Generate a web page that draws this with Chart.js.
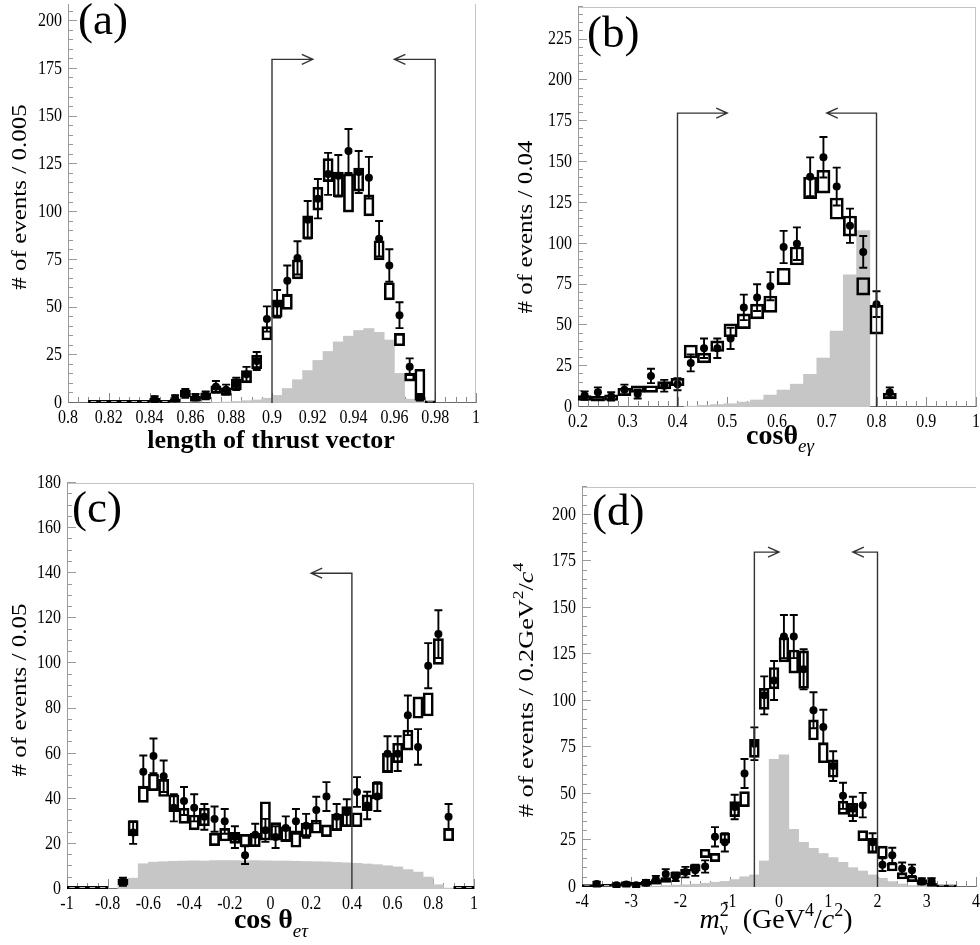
<!DOCTYPE html>
<html><head><meta charset="utf-8">
<script src="https://cdn.jsdelivr.net/npm/chart.js@4.4.1/dist/chart.umd.min.js"></script>
<style>
html,body{margin:0;padding:0;background:#fff}
#wrap{position:relative;width:980px;height:945px;overflow:hidden;background:#fff}
#wrap canvas{position:absolute;left:0;top:0}
</style></head><body><div id="wrap">
<canvas id="cA" width="980" height="945"></canvas>
<canvas id="cB" width="980" height="945"></canvas>
<canvas id="cC" width="980" height="945"></canvas>
<canvas id="cD" width="980" height="945"></canvas>
</div>
<script>
// ================= DATA =================
// ---- Panel (a): length of thrust vector ----
const aBins = [0.8025,0.8075,0.8125,0.8175,0.8225,0.8275,0.8325,0.8375,0.8425,0.8475,0.8525,0.8575,0.8625,0.8675,0.8725,0.8775,0.8825,0.8875,0.8925,0.8975,0.9025,0.9075,0.9125,0.9175,0.9225,0.9275,0.9325,0.9375,0.9425,0.9475,0.9525,0.9575,0.9625,0.9675,0.9725,0.9775];
const aData = [null,null,null,null,null,null,null,null,2,null,2.5,5,3,4,8.5,7,10,15,22,44,52,64,76,96,107,120,119,132,121,118,86,72,46,19,3,null];
const aErr  = [null,null,null,null,null,null,null,null,1.5,null,1.6,2.3,1.7,2,3,2.6,3.2,3.9,4.7,6.6,7.2,8,8.7,9.8,10.3,11,10.9,11.5,11,10.9,9.3,8.5,6.8,4.4,1.7,null];
const aMcLo = [null,null,0,0,0,0,0,0,0.5,0,0.5,3.3,1,2,5,4,7,10.5,18,33,45,49,65,86,101,116,108,100,111,98,75,54,30,11.5,1.5,0];
const aMcHi = [null,null,1.4,1.4,1.4,1.4,1.4,1.4,2.5,1.4,2,6.8,3.5,5.3,9,8,12.5,17,25,40,54,57,75,98,113,128,121,120,123,109,85,63,36.5,15.7,17.7,1.2];
const aSig  = [null,null,null,null,null,null,null,null,null,null,null,null,null,null,0.3,0.5,0.8,1.2,1.6,2.5,4,7.6,12.2,17,22.3,27,32,35,38,39,37,33,15.5,2,1,0.5];
const aCuts = [{x0:0.9,x1:0.92,h:180},{x0:0.98,x1:0.96,h:180}];
const aXTicks = [0.8,0.82,0.84,0.86,0.88,0.9,0.92,0.94,0.96,0.98,1];
const aXLabels = ["0.8","0.82","0.84","0.86","0.88","0.9","0.92","0.94","0.96","0.98","1"];
const aYTicks = [0,25,50,75,100,125,150,175,200];
const aYLabels = ["0","25","50","75","100","125","150","175","200"];

// ---- Panel (b): cos theta_e-gamma ----
const bBins = [0.21333,0.24,0.26667,0.29333,0.32,0.34667,0.37333,0.4,0.42667,0.45333,0.48,0.50667,0.53333,0.56,0.58667,0.61333,0.64,0.66667,0.69333,0.72,0.74667,0.77333,0.8,0.82667];
const bData = [7,9,6.5,10.5,8,19,13,14,27,36,36,42,61,67,74,98,100,141,153,135,111,95,63,9];
const bErr  = [2.6,3,2.5,3.2,2.8,4.4,3.6,3.7,5.2,6,6,6.5,7.8,8.2,8.6,9.9,10,11.9,12.4,11.6,10.5,9.7,7.9,3];
const bMcLo = [4,3.5,4,7,9,9,11,13,30,27,34,43,48,54,58,75,87,127.6,131,115,104.7,68.5,44.6,5];
const bMcHi = [7,6.5,7.5,11.5,13,13,15.5,17.5,38,33,40.5,51,57,63,68,85,98,140.8,145,128,117,79.3,62.3,8.4];
const bSig  = [null,null,null,null,null,null,null,null,0.5,1,1.5,2,3,4.3,7.3,10.4,14,20,30,46.5,81,108,null,null];
const bCuts = [{x0:0.4,x1:0.5,h:180},{x0:0.8,x1:0.7,h:180}];
const bXTicks = [0.2,0.3,0.4,0.5,0.6,0.7,0.8,0.9,1];
const bXLabels = ["0.2","0.3","0.4","0.5","0.6","0.7","0.8","0.9","1"];
const bYTicks = [0,25,50,75,100,125,150,175,200,225];
const bYLabels = ["0","25","50","75","100","125","150","175","200","225"];

// ---- Panel (c): cos theta_e-tau ----
const cBins = [-0.975,-0.925,-0.875,-0.825,-0.775,-0.725,-0.675,-0.625,-0.575,-0.525,-0.475,-0.425,-0.375,-0.325,-0.275,-0.225,-0.175,-0.125,-0.075,-0.025,0.025,0.075,0.125,0.175,0.225,0.275,0.325,0.375,0.425,0.475,0.525,0.575,0.625,0.675,0.725,0.775,0.825,0.875,0.925,0.975];
const cData = [null,null,null,null,null,3.2,25,52,59,50,36,39,36,32,31,30,23,15,24,26,23,27,30,28,35,41,32,34,43,37,41,60,60,77,63,99,113,32,null,null];
const cErr  = [null,null,null,null,null,1.8,5,7.2,7.7,7,6,6.2,6,5.7,5.6,5.5,4.8,3.9,4.9,5.1,4.8,5.2,5.5,5.3,5.9,6.4,5.7,5.8,6.6,6.1,6.4,7.7,7.7,8.8,7.9,10,10.6,5.7,null,null];
const cMcLo = [0,0,0,0,null,1.8,23.6,38.4,43.6,41,34.3,29.1,26.2,28,19.2,21.3,20.2,18.8,18.8,21.7,21.7,21,18.5,23.2,24.7,23.2,25.9,27.6,27.6,34.7,39.9,51.6,56,61.6,75.7,76.7,99.6,21.4,0,0];
const cMcHi = [1.2,1.2,1.2,1.2,null,4.3,30.3,45.6,51,48.6,41.7,35.8,32.8,35.8,24.7,26.9,25.1,24.2,24.7,38.7,29.4,27.6,25.8,29.1,30.6,28.4,33.2,36.5,33.8,41.7,47.3,60.2,64.6,70.5,85.2,87,111,26.9,1.2,1.2];
const cSig  = [null,null,null,null,null,4.5,4.8,11.2,11.9,12.1,12.3,12.4,12.5,12.4,12.6,12.6,12.6,12.5,12.6,12.5,12.4,12.4,12.3,12.2,12.1,12,11.8,11.6,11.4,11.1,10.8,10.3,9.8,8.6,7.5,5.3,1.9,0.4,null,null];
const cCuts = [{x0:0.4,x1:0.2,h:140}];
const cXTicks = [-1,-0.8,-0.6,-0.4,-0.2,0,0.2,0.4,0.6,0.8,1];
const cXLabels = ["-1","-0.8","-0.6","-0.4","-0.2","0","0.2","0.4","0.6","0.8","1"];
const cYTicks = [0,20,40,60,80,100,120,140,160,180];
const cYLabels = ["0","20","40","60","80","100","120","140","160","180"];

// ---- Panel (d): missing mass squared ----
const dBins = [-3.9,-3.7,-3.5,-3.3,-3.1,-2.9,-2.7,-2.5,-2.3,-2.1,-1.9,-1.7,-1.5,-1.3,-1.1,-0.9,-0.7,-0.5,-0.3,-0.1,0.1,0.3,0.5,0.7,0.9,1.1,1.3,1.5,1.7,1.9,2.1,2.3,2.5,2.7,2.9,3.1,3.3,3.5,3.7,3.9];
const dData = [null,1.6,null,1,1.4,1,2.3,4,7,5.5,8,9,11,27,24,43,61,77,103,111,134.6,134.6,117,95,86,65,49,42,44,24,12,17,10,9,3,3,null,null,null,null];
const dErr  = [null,1.3,null,1,1.2,1,1.5,2,2.6,2.3,2.8,3,3.3,5.2,4.9,6.6,7.8,8.8,10.2,10.5,11.6,11.6,10.8,9.7,9.3,8,7,6.5,6.6,4.9,3.4,4.1,3.2,3,1.7,1.7,null,null,null,null];
const dMcLo = [0,0,0.3,0.5,0.5,1,1,1.5,2.5,5,6.5,8.5,15.8,13.6,23.5,37.8,43.2,69.7,95.5,106.5,121,115,106.8,79,66.8,59,39,37.8,24.9,18.1,15.4,8.6,4.3,2.9,1.5,0.5,0,0,null,null];
const dMcHi = [1.3,1.3,1.5,1.8,2.5,2.5,3,4,5,8,9.5,12,20.3,18.1,28.9,45.9,51.3,79.4,106.8,118,134,127.4,126.9,89.8,77.6,68.3,46.2,45,30.3,26.2,22,13,7.7,6,4,2,1.2,1.2,null,null];
const dSig  = [0.3,0.3,0.3,0.3,0.3,0.3,0.3,0.3,0.8,1,1.2,1.5,2,2.5,3,4,5.5,6.5,14,68.6,71,31,24,20.8,18,15.8,13.3,10.4,8.6,6.5,4.7,2.9,1.6,0.8,0.4,null,null,null,null,null];
const dCuts = [{x0:-0.5,x1:0,h:180},{x0:2,x1:1.5,h:180}];
const dXTicks = [-4,-3,-2,-1,0,1,2,3,4];
const dXLabels = ["-4","-3","-2","-1","0","1","2","3","4"];
const dYTicks = [0,25,50,75,100,125,150,175,200];
const dYLabels = ["0","25","50","75","100","125","150","175","200"];

// ================= RENDERING =================
const SERIF = '"Liberation Serif", "Times New Roman", serif';
function F(style, size) { return (style ? style + ' ' : '') + size + 'px ' + SERIF; }

function richText(ctx, segs, x, y, o) {
  ctx.save();
  ctx.translate(x, y);
  if (o.rot) ctx.rotate(o.rot);
  ctx.scale(o.sx || 1, o.sy || 1);
  ctx.textBaseline = o.base || 'alphabetic';
  ctx.textAlign = 'left';
  ctx.fillStyle = o.color || '#000';
  const widthOf = s => {
    ctx.font = s.f;
    if (s.stack) return Math.max(ctx.measureText(s.sub).width, ctx.measureText(s.sup).width);
    return ctx.measureText(s.t).width;
  };
  let w = 0; segs.forEach(s => { w += widthOf(s); });
  let cx = o.align === 'center' ? -w / 2 : (o.align === 'right' ? -w : 0);
  segs.forEach(s => {
    const sw = widthOf(s);
    if (s.stack) { ctx.fillText(s.sub, cx, s.subDy); ctx.fillText(s.sup, cx, s.supDy); }
    else ctx.fillText(s.t, cx, s.dy || 0);
    cx += sw;
  });
  ctx.restore();
}

function makePlugin(P) {
  return {
    id: 'decor' + P.id,
    beforeDatasetsDraw(chart) {
      const ctx = chart.ctx, xs = chart.scales.x, ys = chart.scales.y, ca = chart.chartArea;
      ctx.save();
      ctx.lineWidth = 1;
      ctx.strokeStyle = '#c4c4c4';
      ctx.beginPath();
      if (P.frameTop) { ctx.moveTo(ca.left, ca.top + 0.5); ctx.lineTo(ca.right, ca.top + 0.5); }
      if (P.frameRight) { ctx.moveTo(ca.right - 0.5, ca.top); ctx.lineTo(ca.right - 0.5, ca.bottom); }
      ctx.stroke();
      // left axis and y ticks
      ctx.strokeStyle = '#9a9a9a';
      ctx.beginPath(); ctx.moveTo(ca.left + 0.5, ca.top); ctx.lineTo(ca.left + 0.5, ca.bottom); ctx.stroke();
      const nY = Math.floor(ys.max / P.yMinor + 1e-6);
      ctx.beginPath();
      for (let k = 0; k <= nY; k++) {
        const v = k * P.yMinor;
        const major = P.yTicks.some(t => Math.abs(t - v) < 1e-6);
        const y = Math.round(ys.getPixelForValue(v)) - 0.5;
        ctx.moveTo(ca.left, y); ctx.lineTo(ca.left + (major ? 9 : 5), y);
      }
      ctx.stroke();
      // bottom axis and x ticks
      ctx.strokeStyle = '#6a6a6a';
      ctx.beginPath(); ctx.moveTo(ca.left, ca.bottom - 0.5); ctx.lineTo(ca.right, ca.bottom - 0.5); ctx.stroke();
      const nX = Math.round((xs.max - xs.min) / P.xMinor);
      ctx.strokeStyle = '#8a8a8a';
      ctx.beginPath();
      for (let k = 0; k <= nX; k++) {
        const v = xs.min + k * P.xMinor;
        const major = P.xTicks.some(t => Math.abs(t - v) < 1e-6);
        const x = Math.round(xs.getPixelForValue(v)) + 0.5;
        ctx.moveTo(x, ca.bottom); ctx.lineTo(x, ca.bottom - (major ? 10 : 6));
      }
      ctx.stroke();
      ctx.restore();
    },
    afterDatasetsDraw(chart) {
      const ctx = chart.ctx, xs = chart.scales.x, ys = chart.scales.y;
      ctx.save();
      // error bars
      ctx.strokeStyle = '#000'; ctx.lineWidth = 1.9;
      ctx.beginPath();
      P.bins.forEach((b, i) => {
        const v = P.data[i], e = P.err[i];
        if (v == null || e == null) return;
        const x = xs.getPixelForValue(b);
        const y1 = ys.getPixelForValue(v + e), y0 = ys.getPixelForValue(Math.max(v - e, 0));
        ctx.moveTo(x, y0); ctx.lineTo(x, y1);
        ctx.moveTo(x - 4, y0); ctx.lineTo(x + 4, y0);
        ctx.moveTo(x - 4, y1); ctx.lineTo(x + 4, y1);
      });
      ctx.stroke();
      // cut arrows
      ctx.strokeStyle = '#333'; ctx.lineWidth = 1.4;
      P.cuts.forEach(a => {
        const x0 = xs.getPixelForValue(a.x0), x1 = xs.getPixelForValue(a.x1);
        const yb = ys.getPixelForValue(0), yh = ys.getPixelForValue(a.h);
        const d = Math.sign(x1 - x0);
        ctx.beginPath();
        ctx.moveTo(x0, yb); ctx.lineTo(x0, yh); ctx.lineTo(x1, yh);
        ctx.moveTo(x1 - d * 11, yh - 5); ctx.lineTo(x1, yh); ctx.lineTo(x1 - d * 11, yh + 5);
        ctx.stroke();
      });
      ctx.restore();
    },
    afterDraw(chart) {
      const ctx = chart.ctx, xs = chart.scales.x, ys = chart.scales.y, ca = chart.chartArea;
      P.yTicks.forEach((t, i) => richText(ctx, [{t: P.yLabels[i], f: F('', 16)}], ca.left - 6, ys.getPixelForValue(t), {align: 'right', base: 'middle', sy: 1.15}));
      P.xTicks.forEach((t, i) => richText(ctx, [{t: P.xLabels[i], f: F('', 16)}], xs.getPixelForValue(t), ca.bottom + 6, {align: 'center', base: 'top', sy: 1.15}));
      richText(ctx, [{t: P.label, f: F('', 45)}], P.labelPos[0], P.labelPos[1], {align: 'left'});
      richText(ctx, P.yTitle, P.yTitlePos[0], P.yTitlePos[1], {align: 'center', base: 'middle', rot: -Math.PI / 2, sx: 1.25});
      richText(ctx, P.xTitle, P.xTitlePos[0], P.xTitlePos[1], {align: 'center'});
    }
  };
}

function makePanel(P) {
  const pts = [], boxes = [], sig = [];
  P.bins.forEach((b, i) => {
    if (P.data[i] != null) pts.push({x: b, y: P.data[i]});
    if (P.lo[i] != null && P.hi[i] != null) boxes.push({x: b, y: [P.lo[i], P.hi[i]]});
    if (P.sig[i] != null) sig.push({x: b, y: P.sig[i]});
  });
  new Chart(document.getElementById(P.canvas), {
    type: 'bar',
    data: {
      datasets: [
        {type: 'scatter', data: pts, order: 1, pointRadius: 4, pointHoverRadius: 4,
         pointBackgroundColor: '#000', pointBorderWidth: 0, borderColor: '#000', backgroundColor: '#000'},
        {type: 'bar', data: boxes, order: 2, grouped: false, backgroundColor: 'rgba(0,0,0,0)',
         borderColor: '#000', borderWidth: 2, borderSkipped: false, barPercentage: 1, categoryPercentage: 1},
        {type: 'bar', data: sig, order: 3, grouped: false, backgroundColor: '#c6c6c6',
         borderWidth: 0, barPercentage: 1, categoryPercentage: 1}
      ]
    },
    options: {
      responsive: false, animation: false, devicePixelRatio: 1, events: [],
      layout: {padding: P.pad},
      plugins: {legend: {display: false}, tooltip: {enabled: false}},
      scales: {
        x: {type: 'linear', min: P.xMin, max: P.xMax, offset: false, display: false},
        y: {type: 'linear', min: 0, max: P.yMax, display: false}
      }
    },
    plugins: [makePlugin(P)]
  });
}

makePanel({
  id: 'A', canvas: 'cA', bins: aBins, data: aData, err: aErr, lo: aMcLo, hi: aMcHi, sig: aSig, cuts: aCuts,
  xTicks: aXTicks, xLabels: aXLabels, yTicks: aYTicks, yLabels: aYLabels,
  pad: {left: 68, top: 0, right: 504, bottom: 542}, xMin: 0.8, xMax: 1.0, yMax: 209, xMinor: 0.005, yMinor: 5,
  frameTop: false, frameRight: true, label: '(a)', labelPos: [78, 34],
  yTitle: [{t: '# of events / 0.005', f: F('', 20)}], yTitlePos: [21, 197],
  xTitle: [{t: 'length of thrust vector', f: F('bold', 26)}], xTitlePos: [271, 448]
});
makePanel({
  id: 'B', canvas: 'cB', bins: bBins, data: bData, err: bErr, lo: bMcLo, hi: bMcHi, sig: bSig, cuts: bCuts,
  xTicks: bXTicks, xLabels: bXLabels, yTicks: bYTicks, yLabels: bYLabels,
  pad: {left: 578, top: 7, right: 2, bottom: 538}, xMin: 0.2, xMax: 1.0, yMax: 245, xMinor: 0.02, yMinor: 5,
  frameTop: true, frameRight: true, label: '(b)', labelPos: [587, 47],
  yTitle: [{t: '# of events / 0.04', f: F('', 20)}], yTitlePos: [527, 227],
  xTitle: [{t: 'cosθ', f: F('bold', 28)}, {t: 'eγ', f: F('italic', 19), dy: 8}], xTitlePos: [780, 444]
});
makePanel({
  id: 'C', canvas: 'cC', bins: cBins, data: cData, err: cErr, lo: cMcLo, hi: cMcHi, sig: cSig, cuts: cCuts,
  xTicks: cXTicks, xLabels: cXLabels, yTicks: cYTicks, yLabels: cYLabels,
  pad: {left: 67, top: 483, right: 506, bottom: 56}, xMin: -1, xMax: 1, yMax: 180, xMinor: 0.05, yMinor: 5,
  frameTop: true, frameRight: true, label: '(c)', labelPos: [72, 522],
  yTitle: [{t: '# of events / 0.05', f: F('', 20)}], yTitlePos: [21, 690],
  xTitle: [{t: 'cos θ', f: F('bold', 28)}, {t: 'eτ', f: F('italic', 19), dy: 9}], xTitlePos: [271, 928]
});
makePanel({
  id: 'D', canvas: 'cD', bins: dBins, data: dData, err: dErr, lo: dMcLo, hi: dMcHi, sig: dSig, cuts: dCuts,
  xTicks: dXTicks, xLabels: dXLabels, yTicks: dYTicks, yLabels: dYLabels,
  pad: {left: 582, top: 487, right: 1, bottom: 58}, xMin: -4, xMax: 4, yMax: 215, xMinor: 0.2, yMinor: 5,
  frameTop: true, frameRight: false, label: '(d)', labelPos: [592, 525],
  yTitle: [{t: '# of events / 0.2GeV', f: F('', 21)}, {t: '2', f: F('', 14), dy: -8}, {t: '/', f: F('', 21)},
           {t: 'c', f: F('italic', 21)}, {t: '4', f: F('', 14), dy: -8}], yTitlePos: [527, 690],
  xTitle: [{t: 'm', f: F('italic', 28)}, {stack: true, sub: 'ν', sup: '2', f: F('', 18), subDy: 7, supDy: -12},
           {t: '  (GeV', f: F('', 28)}, {t: '4', f: F('', 18), dy: -12}, {t: '/', f: F('', 28)},
           {t: 'c', f: F('italic', 28)}, {t: '2', f: F('', 18), dy: -12}, {t: ')', f: F('', 28)}], xTitlePos: [776, 928]
});
</script></body></html>
